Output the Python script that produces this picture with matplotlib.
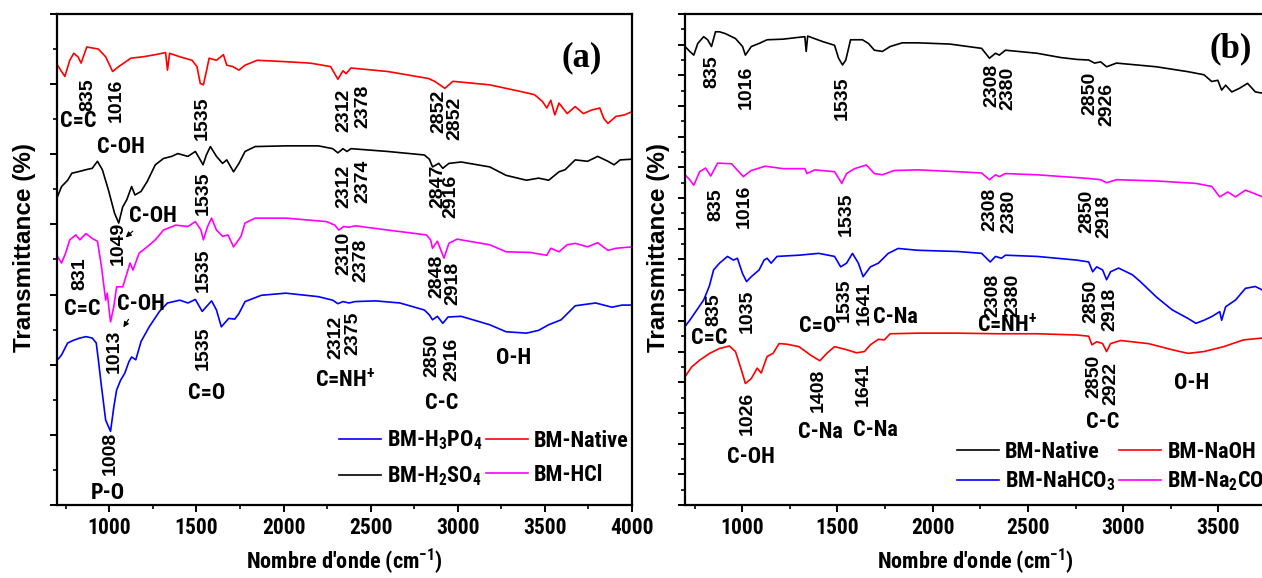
import matplotlib
matplotlib.use("Agg")
import matplotlib.pyplot as plt
from matplotlib import font_manager
from matplotlib.ticker import MultipleLocator, NullFormatter

# ---- panel (a): acid treatments ----
native_a_wn = [703, 726, 745, 773, 796, 820, 838, 871, 937, 979, 1019, 1054, 1124, 1194, 1264, 1323, 1334,
               1346, 1405, 1475, 1503, 1522, 1540, 1557, 1573, 1615, 1655, 1674, 1709, 1744, 1779, 1849,
               2013, 2153, 2270, 2312, 2341, 2359, 2387, 2598, 2832, 2867, 2926, 2972, 3183, 3370, 3440,
               3487, 3511, 3534, 3557, 3581, 3628, 3674, 3721, 3768, 3815, 3838, 3862, 3908, 3955, 4002]
native_a_t = [627, 618, 611, 634, 644, 639, 630, 653, 650, 639, 618, 625, 637, 639, 642, 645, 620,
              644, 639, 634, 625, 601, 599, 618, 637, 634, 642, 627, 625, 620, 627, 634,
              632, 630, 625, 607, 619, 615, 623, 618, 608, 604, 594, 604, 599, 589, 585,
              575, 566, 577, 556, 573, 558, 568, 558, 563, 566, 551, 544, 554, 556, 561]

h2so4_wn = [703, 726, 761, 785, 820, 866, 902, 932, 960, 995, 1030, 1054, 1077, 1100, 1128, 1147, 1182,
            1217, 1264, 1311, 1358, 1393, 1451, 1494, 1522, 1538, 1557, 1580, 1615, 1650, 1674, 1713,
            1744, 1779, 1837, 2013, 2200, 2282, 2312, 2341, 2364, 2387, 2598, 2808, 2837, 2855, 2891,
            2914, 2949, 3019, 3183, 3277, 3394, 3464, 3522, 3581, 3616, 3674, 3745, 3803, 3862, 3897,
            3932, 4002]
h2so4_t = [440, 454, 463, 473, 475, 478, 480, 490, 478, 449, 416, 402, 425, 435, 454, 442, 447,
           461, 485, 494, 497, 501, 497, 504, 492, 485, 499, 511, 497, 487, 492, 475,
           487, 504, 511, 512, 512, 508, 502, 508, 504, 508, 504, 499, 493, 482, 487,
           480, 487, 489, 482, 470, 463, 466, 463, 475, 478, 492, 490, 497, 490, 485,
           492, 493]

hcl_wn = [703, 726, 749, 773, 808, 831, 866, 902, 932, 955, 979, 988, 1007, 1026, 1042, 1077, 1096,
          1119, 1136, 1171, 1217, 1264, 1311, 1381, 1451, 1494, 1526, 1540, 1564, 1587, 1615, 1650,
          1681, 1713, 1756, 1779, 1837, 2013, 2247, 2294, 2317, 2345, 2376, 2411, 2598, 2820, 2844,
          2855, 2883, 2921, 2949, 2996, 3183, 3277, 3417, 3511, 3534, 3581, 3628, 3674, 3745, 3803,
          3862, 3908, 4002]
hcl_t = [354, 345, 359, 378, 385, 378, 387, 380, 376, 340, 292, 302, 261, 283, 311, 311, 326,
         345, 335, 359, 368, 378, 392, 399, 397, 404, 392, 378, 397, 409, 392, 383,
         385, 368, 383, 402, 409, 409, 404, 399, 392, 397, 396, 398, 392, 385, 378,
         366, 376, 352, 373, 379, 371, 361, 360, 356, 366, 361, 371, 373, 368, 374,
         363, 366, 368]

h3po4_wn = [703, 726, 761, 796, 831, 866, 902, 925, 937, 955, 979, 1007, 1026, 1042, 1065, 1089, 1112,
            1128, 1152, 1182, 1229, 1288, 1334, 1405, 1451, 1494, 1533, 1587, 1615, 1643, 1685, 1720,
            1744, 1779, 1873, 2013, 2200, 2282, 2312, 2341, 2376, 2411, 2528, 2668, 2808, 2837, 2855,
            2883, 2914, 2944, 3019, 3183, 3277, 3394, 3464, 3522, 3593, 3674, 3791, 3885, 3943, 4002]
h3po4_t = [207, 214, 231, 235, 238, 240, 238, 231, 207, 169, 121, 105, 140, 164, 178, 188, 204,
           211, 207, 233, 254, 276, 288, 292, 288, 293, 276, 291, 278, 254, 266, 265,
           273, 290, 299, 302, 297, 292, 287, 290, 288, 290, 291, 288, 278, 271, 264,
           269, 259, 268, 269, 257, 247, 245, 249, 257, 264, 284, 288, 282, 285, 285]

# ---- panel (b): basic treatments ----
native_b_wn = [700, 725, 746, 767, 798, 819, 839, 860, 881, 912, 965, 1002, 1017, 1048, 1089, 1131, 1215,
               1298, 1329, 1336, 1344, 1423, 1485, 1506, 1527, 1544, 1569, 1631, 1663, 1694, 1736, 1777,
               1840, 1923, 2090, 2257, 2298, 2330, 2350, 2382, 2548, 2673, 2757, 2819, 2850, 2882, 2913,
               2965, 3174, 3340, 3424, 3465, 3497, 3517, 3538, 3570, 3611, 3653, 3694, 3732]
native_b_t = [747, 739, 733, 752, 763, 758, 747, 771, 771, 768, 760, 747, 733, 747, 752, 758, 759,
              762, 763, 739, 764, 755, 749, 728, 717, 725, 758, 758, 752, 741, 739, 747,
              753, 753, 751, 744, 728, 736, 733, 741, 736, 729, 726, 725, 720, 722, 714,
              720, 714, 706, 701, 690, 692, 676, 684, 673, 679, 687, 673, 671]

na2co3_wn = [700, 725, 746, 777, 808, 835, 871, 944, 1006, 1048, 1121, 1215, 1329, 1340, 1381, 1485, 1523,
             1548, 1590, 1652, 1694, 1736, 1798, 1923, 2132, 2257, 2298, 2330, 2350, 2382, 2548, 2819,
             2882, 2913, 2965, 3174, 3382, 3465, 3507, 3549, 3590, 3642, 3684, 3732]
na2co3_t = [538, 530, 521, 543, 549, 536, 557, 556, 535, 545, 552, 548, 548, 540, 546, 543, 524,
            540, 548, 554, 540, 538, 545, 546, 543, 541, 530, 538, 535, 540, 538, 532,
            530, 525, 530, 528, 524, 519, 502, 510, 502, 513, 508, 502]

nahco3_wn = [700, 725, 767, 798, 819, 829, 850, 881, 923, 954, 975, 1002, 1023, 1048, 1089, 1115, 1131,
             1152, 1183, 1298, 1402, 1485, 1517, 1548, 1579, 1610, 1635, 1673, 1715, 1767, 1819, 1923,
             2132, 2257, 2302, 2330, 2361, 2382, 2548, 2757, 2819, 2840, 2861, 2892, 2913, 2934, 2976,
             3049, 3090, 3174, 3257, 3340, 3382, 3424, 3465, 3507, 3517, 3538, 3590, 3642, 3694, 3732]
nahco3_t = [291, 301, 320, 334, 350, 358, 383, 394, 405, 399, 402, 377, 364, 372, 383, 399, 402,
            394, 405, 407, 410, 405, 388, 394, 410, 394, 372, 388, 394, 410, 418, 415,
            413, 410, 396, 405, 402, 407, 405, 399, 396, 380, 388, 383, 367, 380, 386,
            375, 364, 339, 318, 304, 296, 301, 307, 315, 301, 323, 334, 353, 356, 350]

naoh_wn = [700, 735, 777, 829, 881, 933, 965, 996, 1017, 1048, 1079, 1100, 1131, 1162, 1194, 1235, 1298,
           1360, 1408, 1444, 1485, 1548, 1600, 1642, 1673, 1715, 1746, 1777, 1923, 2132, 2340, 2548,
           2757, 2819, 2836, 2861, 2892, 2913, 2934, 2986, 3132, 3257, 3340, 3424, 3528, 3632, 3732]
naoh_t = [209, 225, 236, 247, 255, 259, 250, 220, 198, 206, 223, 215, 242, 247, 263, 262, 258,
          244, 235, 247, 258, 253, 248, 250, 261, 270, 269, 279, 280, 280, 279, 279,
          277, 275, 261, 266, 263, 250, 263, 268, 263, 253, 247, 250, 258, 269, 272]

# narrow bold face for the labels, falling back to plain Liberation Sans set a bit smaller
ARIAL = "Liberation Sans"
installed = {f.name for f in font_manager.fontManager.ttflist}
NARROW, nscale = ARIAL, 0.86
for cand in ["Liberation Sans Narrow", "Arial Narrow", "Roboto Condensed"]:
    if cand in installed:
        NARROW, nscale = cand, 1.0
        break

plt.rcParams["mathtext.fontset"] = "custom"
plt.rcParams["mathtext.rm"] = NARROW + ":bold"
plt.rcParams["mathtext.bf"] = NARROW + ":bold"
plt.rcParams["mathtext.it"] = NARROW + ":bold"

fig = plt.figure(figsize=(12.62, 5.78), dpi=100)
ax_a = fig.add_axes([0.0452, 0.1263, 0.4556, 0.8495])
ax_b = fig.add_axes([0.5428, 0.1263, 0.4604, 0.8495])


def style_axes(ax, xlim, ylim, ystep, ylab_x):
    ax.set_xlim(*xlim)
    ax.set_ylim(*ylim)
    ax.xaxis.set_major_locator(MultipleLocator(500))
    ax.xaxis.set_minor_locator(MultipleLocator(250))
    ax.yaxis.set_major_locator(MultipleLocator(ystep))
    ax.yaxis.set_minor_locator(MultipleLocator(ystep / 2))
    ax.yaxis.set_major_formatter(NullFormatter())
    for s in ax.spines.values():
        s.set_linewidth(1.6)
    ax.tick_params(axis="both", which="major", direction="out", length=5, width=1.4)
    ax.tick_params(axis="both", which="minor", direction="out", length=3, width=1.2)
    for lab in ax.get_xticklabels():
        lab.set_fontfamily(NARROW)
        lab.set_fontweight("bold")
        lab.set_fontsize(15.5 * nscale)
    ax.set_xlabel("Nombre d'onde (cm$^{-1}$)", fontfamily=NARROW, fontweight="bold",
                  fontsize=16 * nscale, labelpad=6)
    ax.set_ylabel("Transmittance (%)", fontfamily=ARIAL, fontweight="bold", fontsize=17.5)
    ax.yaxis.set_label_coords(ylab_x, 0.525)


def num(ax, txt, x, y):
    ax.text(x, y, txt, rotation=90, ha="center", va="center",
            fontfamily=ARIAL, fontweight="bold", fontsize=14)


def tag(ax, txt, x, y):
    ax.text(x, y, txt, ha="center", va="center",
            fontfamily=NARROW, fontweight="bold", fontsize=16 * nscale)


legend_kw = dict(loc="upper left", ncol=2, frameon=False,
                 prop={"family": NARROW, "weight": "bold", "size": 16 * nscale},
                 handlelength=1.9, handletextpad=0.27, columnspacing=0.15,
                 borderpad=0, borderaxespad=0)

# panel (a)
lw = 1.2
ax_a.plot(h3po4_wn, h3po4_t, color="#0000ff", lw=lw, label="BM-H$_3$PO$_4$")
ax_a.plot(h2so4_wn, h2so4_t, color="black", lw=lw, label="BM-H$_2$SO$_4$")
ax_a.plot(native_a_wn, native_a_t, color="#ff0000", lw=lw, label="BM-Native")
ax_a.plot(hcl_wn, hcl_t, color="#ff00ff", lw=lw, label="BM-HCl")
style_axes(ax_a, (700, 4000), (0, 700), 100, -0.036)

for t, x, y in [("835", 878, 585), ("1016", 1037, 577), ("1535", 1533, 551),
                ("2312", 2348, 563), ("2378", 2453, 569), ("2852", 2891, 561), ("2852", 2984, 551),
                ("1049", 1049, 373), ("1535", 1538, 444), ("2312", 2348, 454), ("2374", 2453, 461),
                ("2847", 2884, 454), ("2916", 2961, 440),
                ("831", 831, 330), ("1013", 1030, 219), ("1535", 1538, 335), ("2310", 2348, 359),
                ("2378", 2446, 349), ("2848", 2879, 326), ("2918", 2972, 316),
                ("1008", 1007, 74), ("1535", 1538, 223), ("2312", 2298, 239), ("2375", 2399, 245),
                ("2850", 2851, 214), ("2916", 2968, 207)]:
    num(ax_a, t, x, y)

for t, x, y in [("C=C", 820, 547), ("C-OH", 1065, 511), ("C-OH", 1252, 412), ("C=C", 843, 280),
                ("C-OH", 1182, 287), ("C=O", 1557, 159), ("C=NH$^{+}$", 2352, 178),
                ("C-C", 2907, 145), ("O-H", 3319, 209), ("P-O", 990, 17)]:
    tag(ax_a, t, x, y)

arrow = dict(arrowstyle="-|>", color="black", lw=0.8, mutation_scale=8)
ax_a.annotate("", xy=(1082, 379), xytext=(1147, 393), arrowprops=arrow)
ax_a.annotate("", xy=(1072, 250), xytext=(1119, 268), arrowprops=arrow)

ax_a.text(3710, 637, "(a)", ha="center", va="center", fontfamily="Liberation Serif",
          fontweight="bold", fontsize=25)

ax_a.legend(bbox_to_anchor=(0.49, 0.155), labelspacing=0.55, **legend_kw)

# panel (b)
ax_b.plot(native_b_wn, native_b_t, color="black", lw=lw, label="BM-Native")
ax_b.plot(nahco3_wn, nahco3_t, color="#0000ff", lw=lw, label="BM-NaHCO$_3$")
ax_b.plot(naoh_wn, naoh_t, color="#ff0000", lw=lw, label="BM-NaOH")
ax_b.plot(na2co3_wn, na2co3_t, color="#ff00ff", lw=lw, label="BM-Na$_2$CO$_3$")
style_axes(ax_b, (700, 3750), (0, 800), 50, -0.026)

for t, x, y in [("835", 839, 706), ("1016", 1023, 680), ("1535", 1523, 663), ("2308", 2309, 684),
                ("2380", 2396, 679), ("2850", 2825, 670), ("2926", 2913, 653),
                ("835", 860, 490), ("1016", 1010, 486), ("1535", 1544, 473), ("2308", 2302, 482),
                ("2380", 2402, 478), ("2850", 2809, 478), ("2918", 2898, 470),
                ("835", 850, 318), ("1035", 1027, 315), ("1535", 1538, 334), ("1641", 1642, 329),
                ("2308", 2315, 342), ("2380", 2423, 342), ("2850", 2830, 331), ("2918", 2930, 318),
                ("1026", 1027, 149), ("1408", 1402, 187), ("1641", 1638, 196),
                ("2850", 2846, 209), ("2922", 2934, 198)]:
    num(ax_b, t, x, y)

for t, x, y in [("C=C", 829, 272), ("C=O", 1396, 292), ("C-Na", 1804, 306),
                ("C=NH$^{+}$", 2392, 293), ("C-OH", 1048, 79), ("C-Na", 1413, 119),
                ("C-Na", 1698, 123), ("C-C", 2892, 136), ("O-H", 3361, 198)]:
    tag(ax_b, t, x, y)

ax_b.text(3563, 744, "(b)", ha="center", va="center", fontfamily="Liberation Serif",
          fontweight="bold", fontsize=25)

ax_b.legend(bbox_to_anchor=(0.468, 0.13), labelspacing=0.3, **legend_kw)

fig.savefig("out.png", dpi=100)
